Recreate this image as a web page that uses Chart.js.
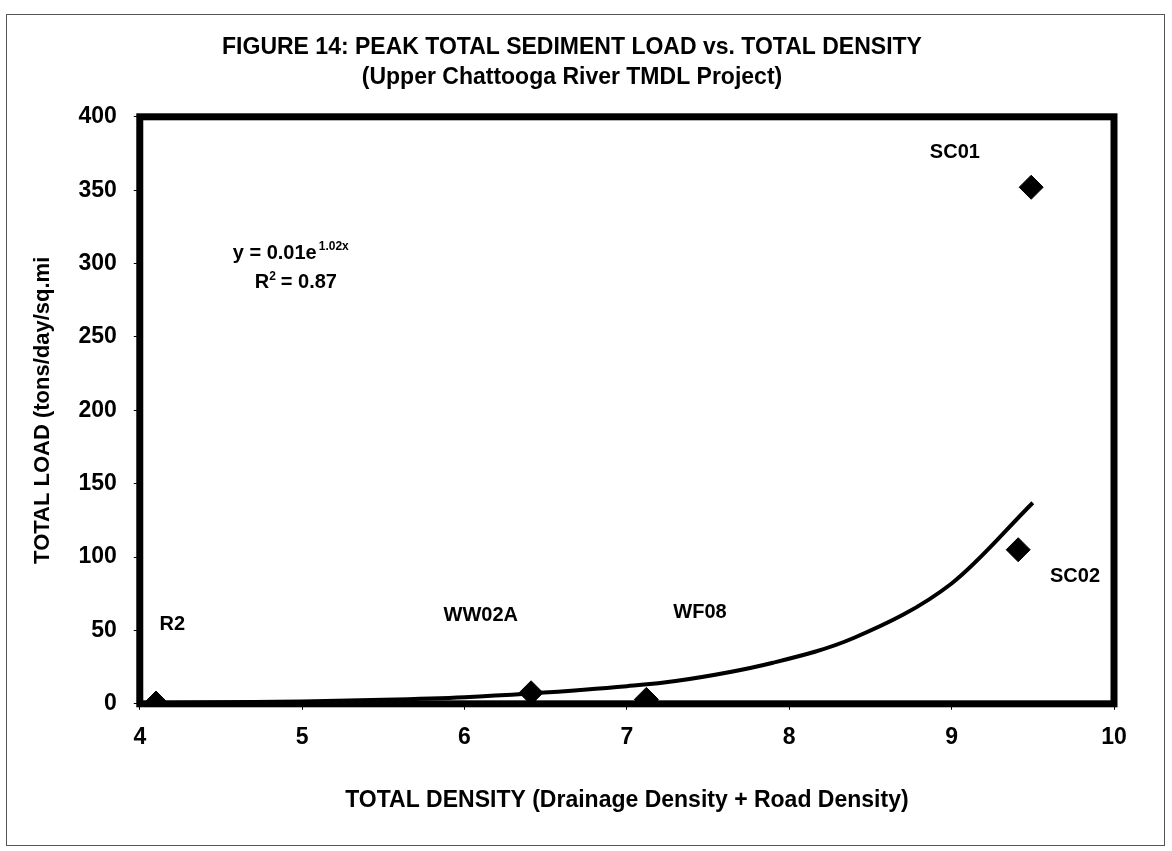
<!DOCTYPE html>
<html>
<head>
<meta charset="utf-8">
<script src="https://cdn.jsdelivr.net/npm/chart.js@4.4.1/dist/chart.umd.min.js"></script>
<style>
  html, body { margin: 0; padding: 0; background: #fff; }
  #wrap { width: 1172px; height: 851px; }
</style>
</head>
<body>
<div id="wrap"><canvas id="myChart" width="1172" height="851"></canvas></div>
<script>
// station values
var stations = ["R2", "WW02A", "WF08", "SC02", "SC01"];
var totalDensity = [4.1, 6.41, 7.12, 9.41, 9.49];
var totalLoad = [0.5, 7.5, 3, 105, 352];

// exponential trend line as drawn in the figure
var trendX = [4.1, 5, 5.5, 6, 6.4, 7, 7.3, 7.9, 8.4, 9, 9.5];
var trendY = [0.5, 1.6, 2.7, 4.5, 7, 12, 15.5, 28, 45, 82, 137];

var xTicks = [4, 5, 6, 7, 8, 9, 10];
var yTicks = [0, 50, 100, 150, 200, 250, 300, 350, 400];

var FONT = "'Liberation Sans', Arial, sans-serif";

var points = totalDensity.map(function (x, i) { return { x: x, y: totalLoad[i] }; });
var trend = trendX.map(function (x, i) { return { x: x, y: trendY[i] }; });

// where each station name sits (data units), as placed in the figure
var labelSpots = {
    "R2": [4.2, 54],
    "WW02A": [6.1, 60],
    "WF08": [7.45, 62],
    "SC02": [9.76, 87],
    "SC01": [9.02, 376]
};

var extras = {
    id: 'extras',
    afterDatasetsDraw: function (chart) {
        var c = chart.ctx, a = chart.chartArea;
        var xs = chart.scales.x, ys = chart.scales.y;
        c.save();
        // heavy frame round the plot area
        c.strokeStyle = '#000';
        c.lineWidth = 7;
        c.strokeRect(a.left, a.top, a.right - a.left, a.bottom - a.top);

        c.fillStyle = '#000';
        c.textAlign = 'center';
        c.textBaseline = 'middle';
        c.font = 'bold 20px ' + FONT;
        stations.forEach(function (s) {
            var p = labelSpots[s];
            c.fillText(s, xs.getPixelForValue(p[0]), ys.getPixelForValue(p[1]));
        });

        // trend equation
        var ex = a.left + 93, ey = a.top + 137;
        c.textAlign = 'left';
        c.font = 'bold 20px ' + FONT;
        c.fillText('y = 0.01e', ex, ey);
        var w = c.measureText('y = 0.01e').width;
        c.font = 'bold 12px ' + FONT;
        c.fillText('1.02x', ex + w + 2, ey - 7);
        var rx = ex + 22, ry = ey + 29;
        c.font = 'bold 20px ' + FONT;
        c.fillText('R', rx, ry);
        var rw = c.measureText('R').width;
        c.font = 'bold 12px ' + FONT;
        c.fillText('2', rx + rw, ry - 6);
        c.font = 'bold 20px ' + FONT;
        c.fillText(' = 0.87', rx + rw + 6, ry);
        c.restore();
    }
};

var ctx = document.getElementById('myChart').getContext('2d');
var chart = new Chart(ctx, {
    type: 'scatter',
    data: {
        datasets: [{
            label: 'Trend',
            data: trend,
            showLine: true,
            borderColor: '#000',
            borderWidth: 4,
            pointRadius: 0,
            cubicInterpolationMode: 'monotone',
            fill: false
        }, {
            label: 'Stations',
            data: points,
            pointStyle: 'rectRot',
            pointRadius: 12,
            pointHoverRadius: 12,
            backgroundColor: '#000',
            borderColor: '#000',
            showLine: false
        }]
    },
    options: {
        responsive: false,
        animation: false,
        layout: { padding: { left: 30, right: 58, top: 10, bottom: 37 } },
        plugins: {
            legend: { display: false },
            tooltip: { enabled: false },
            title: {
                display: true,
                text: ['FIGURE 14: PEAK TOTAL SEDIMENT LOAD vs. TOTAL DENSITY', '(Upper Chattooga River TMDL Project)'],
                color: '#000',
                font: { family: FONT, size: 23, weight: 'bold', lineHeight: 1.3 },
                padding: { top: 23, bottom: 24 }
            }
        },
        scales: {
            x: {
                type: 'linear',
                min: 4,
                max: 10,
                afterBuildTicks: function (s) { s.ticks = xTicks.map(function (v) { return { value: v }; }); },
                grid: { drawOnChartArea: false, drawTicks: true, tickLength: 6, color: '#000' },
                border: { display: false },
                ticks: { color: '#000', padding: 14, font: { family: FONT, size: 23, weight: 'bold' } },
                title: {
                    display: true,
                    text: 'TOTAL DENSITY (Drainage Density + Road Density)',
                    color: '#000',
                    font: { family: FONT, size: 23, weight: 'bold' },
                    padding: { top: 21, bottom: 0 }
                }
            },
            y: {
                type: 'linear',
                min: 0,
                max: 400,
                afterBuildTicks: function (s) { s.ticks = yTicks.map(function (v) { return { value: v }; }); },
                grid: { drawOnChartArea: false, drawTicks: true, tickLength: 6, color: '#000' },
                border: { display: false },
                ticks: { color: '#000', padding: 17, font: { family: FONT, size: 23, weight: 'bold' } },
                title: {
                    display: true,
                    text: 'TOTAL LOAD (tons/day/sq.mi',
                    color: '#000',
                    font: { family: FONT, size: 22, weight: 'bold' },
                    padding: { top: 0, bottom: 5 }
                }
            }
        }
    },
    plugins: [extras, {
        id: 'pageFrame',
        beforeDraw: function (chart) {
            var c = chart.ctx;
            c.save();
            c.fillStyle = '#fff';
            c.fillRect(0, 0, chart.width, chart.height);
            c.strokeStyle = '#555';
            c.lineWidth = 1;
            c.strokeRect(6.5, 14.5, chart.width - 14, chart.height - 20);
            c.restore();
        }
    }]
});
</script>
</body>
</html>
